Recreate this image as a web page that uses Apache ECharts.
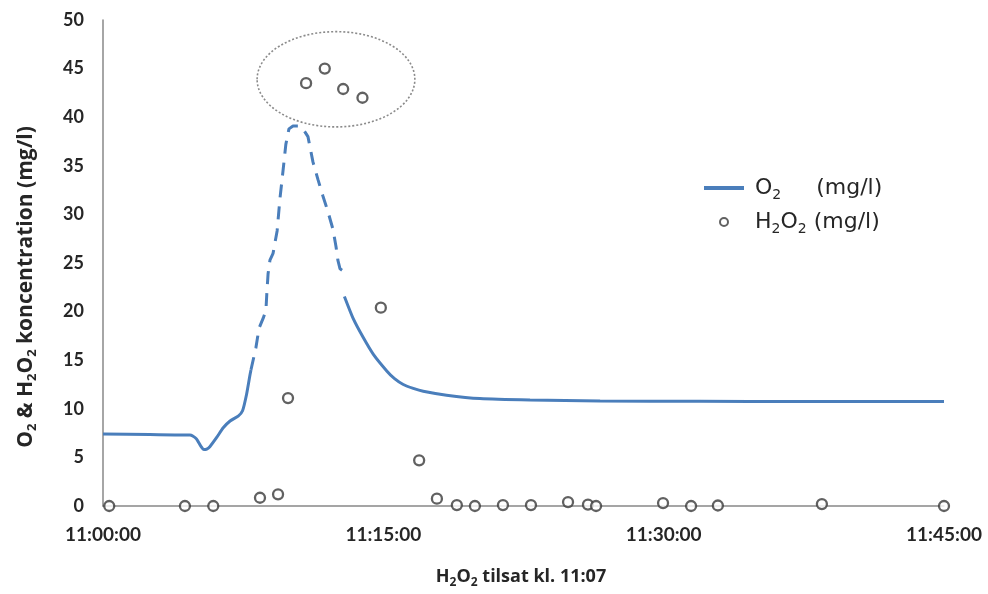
<!DOCTYPE html>
<html><head><meta charset="utf-8">
<script src="https://cdn.jsdelivr.net/npm/echarts@6/dist/echarts.min.js"></script>
<style>html,body{margin:0;padding:0;background:#fff}#c{width:988px;height:594px}</style>
</head><body><div id="c"></div>
<script>
// ---- data ----
const startTime = '11:00:00';
const xTickLabels = ['11:00:00', '11:15:00', '11:30:00', '11:45:00'];
const yTickValues = [0, 5, 10, 15, 20, 25, 30, 35, 40, 45, 50];

// O2 measured (solid, before)
const o2TimesA = ['11:00:00','11:02:30','11:04:39','11:04:48','11:05:00','11:05:15','11:05:24','11:05:33','11:05:43','11:06:05','11:06:26','11:06:48','11:07:14','11:07:28','11:07:41','11:07:52','11:07:55'];
const o2ValuesA = [7.4, 7.35, 7.3, 7.2, 6.9, 6.1, 5.8, 5.85, 6.1, 7.05, 8.05, 8.75, 9.25, 9.8, 11.5, 13.5, 14.0];
// O2 (dashed part)
const o2TimesB = ['11:07:55','11:08:11','11:08:21','11:08:34','11:08:43','11:08:46','11:08:50','11:08:56','11:09:06','11:09:19','11:09:28','11:09:38','11:09:47','11:09:57','11:10:10','11:10:29','11:10:42','11:10:58','11:11:14','11:11:30','11:11:46','11:12:02','11:12:18','11:12:28','11:12:34','11:12:41','11:12:50'];
const o2ValuesB = [14.0, 16.3, 18.3, 19.3, 20.1, 21.9, 23.9, 25.3, 26.0, 28.3, 31.6, 34.5, 37.2, 38.8, 39.1, 39.1, 38.8, 38.0, 35.4, 33.6, 31.9, 30.3, 28.5, 26.7, 25.3, 24.4, 24.2];
// O2 (solid, after)
const o2TimesC = ['11:12:55','11:13:23','11:13:56','11:14:28','11:15:11','11:15:36','11:16:04','11:16:36','11:17:08','11:18:23','11:20:10','11:22:51','11:26:36','11:31:56','11:37:17','11:45:00'];
const o2ValuesC = [21.55, 19.3, 17.3, 15.6, 13.9, 13.1, 12.5, 12.1, 11.8, 11.4, 11.05, 10.9, 10.8, 10.77, 10.74, 10.74];

// H2O2
const h2o2Times = ['11:00:20','11:04:23','11:05:54','11:08:24','11:09:22','11:09:54','11:10:52','11:11:52','11:12:51','11:13:53','11:14:52','11:16:55','11:17:52','11:18:56','11:19:54','11:21:24','11:22:54','11:24:53','11:25:57','11:26:23','11:29:58','11:31:28','11:32:54','11:38:28','11:45:00'];
const h2o2Values = [0, 0, 0, 0.85, 1.2, 11.1, 43.5, 45.0, 42.9, 42.0, 20.4, 4.7, 0.75, 0.1, 0, 0.1, 0.1, 0.4, 0.15, 0, 0.3, 0, 0.05, 0.2, 0];

// annotation ellipse around peak H2O2 points: [centre value, half-width (min), half-height (mg/l)]
const peakEllipseTime = '11:12:28';
const peakEllipse = [43.9, 4.22, 4.9];

// ---- helpers ----
function secs(t) { const p = t.split(':').map(Number); return p[0]*3600 + p[1]*60 + p[2]; }
const t0 = secs(startTime);
function toMin(t) { return (secs(t) - t0) / 60; }
function pairs(ts, vs) { return ts.map((t, i) => [toMin(t), vs[i]]); }

const TICKFONT = 'Lato, "Liberation Sans", sans-serif';
const FONT = '"Open Sans", "Liberation Sans", sans-serif';
const LEGFONT = '"DejaVu Sans", "Open Sans", sans-serif';
const TXT = '#262626';
const BLUE = '#4a7ebb';

const chart = echarts.init(document.getElementById('c'), null, {renderer: 'canvas'});
chart.setOption({
  animation: false,
  backgroundColor: '#fff',
  grid: {left: 103, right: 44, top: 20, bottom: 85},
  legend: {
    orient: 'vertical', left: 699, top: 172, itemWidth: 40, itemHeight: 8, itemGap: 9,
    data: [
      {name: 'O2', icon: 'path://M0,0H40V4H0Z', itemStyle: {color: BLUE, borderWidth: 0}},
      {name: 'H2O2'}
    ],
    formatter: function (n) {
      return n === 'O2' ? '{n|O}{s|2}{n|     (mg/l)}' : '{n|H}{s|2}{n|O}{s|2}{n| (mg/l)}';
    },
    textStyle: {
      color: TXT, fontFamily: LEGFONT, fontSize: 22, padding: [0, 0, 0, 6],
      rich: {
        n: {fontSize: 22, fontFamily: LEGFONT, color: TXT, lineHeight: 28},
        s: {fontSize: 14, fontFamily: LEGFONT, color: TXT, lineHeight: 18, verticalAlign: 'bottom'}
      }
    }
  },
  xAxis: {
    type: 'value', min: 0, max: 45, interval: 15,
    axisLine: {show: true, lineStyle: {color: '#888', width: 1.5}},
    axisTick: {show: false}, splitLine: {show: false},
    axisLabel: {
      margin: 19, color: TXT, fontFamily: TICKFONT, fontSize: 19, fontWeight: 'bold',
      formatter: v => xTickLabels[Math.round(v / 15)]
    },
    name: '{b|H}{s|2}{b|O}{s|2}{b| tilsat kl. 11:07}', nameLocation: 'middle', nameGap: 59,
    nameTextStyle: {
      color: TXT, fontFamily: FONT, padding: [0, 5, 0, 0],
      rich: {
        b: {fontSize: 18, fontWeight: 'bold', fontFamily: FONT, color: TXT, lineHeight: 24},
        s: {fontSize: 12, fontWeight: 'bold', fontFamily: FONT, color: TXT, lineHeight: 15, verticalAlign: 'bottom'}
      }
    }
  },
  yAxis: {
    type: 'value', min: 0, max: 50, interval: 5,
    axisLine: {show: true, lineStyle: {color: '#888', width: 1.5}},
    axisTick: {show: false}, splitLine: {show: false},
    axisLabel: {
      margin: 19, color: TXT, fontFamily: TICKFONT, fontSize: 18, fontWeight: 'bold',
      formatter: v => (yTickValues.indexOf(v) >= 0 ? String(v) : '')
    },
    name: '{b|O}{s|2}{b| & H}{s|2}{b|O}{s|2}{b| koncentration (mg/l)}', nameLocation: 'middle', nameGap: 64,
    nameTextStyle: {
      color: TXT, fontFamily: FONT, padding: [0, 48, 0, 0],
      rich: {
        b: {fontSize: 21, fontWeight: 'bold', fontFamily: FONT, color: TXT, lineHeight: 26},
        s: {fontSize: 13, fontWeight: 'bold', fontFamily: FONT, color: TXT, lineHeight: 16, verticalAlign: 'bottom'}
      }
    }
  },
  series: [
    {
      name: 'O2', type: 'line', data: pairs(o2TimesA, o2ValuesA), symbol: 'none', showSymbol: false,
      smooth: 0.2,
      lineStyle: {color: BLUE, width: 3}, itemStyle: {color: BLUE}, z: 3
    },
    {
      name: 'O2 (dashed)', type: 'line', data: pairs(o2TimesB, o2ValuesB), symbol: 'none',
      smooth: false,
      lineStyle: {color: BLUE, width: 3, type: [13, 9]}, itemStyle: {color: BLUE}, z: 3
    },
    {
      name: 'O2', type: 'line', data: pairs(o2TimesC, o2ValuesC), symbol: 'none', showSymbol: false,
      smooth: 0.2,
      lineStyle: {color: BLUE, width: 3}, itemStyle: {color: BLUE}, z: 3
    },
    {
      name: 'H2O2', type: 'scatter', data: pairs(h2o2Times, h2o2Values),
      symbol: 'circle', symbolSize: 10,
      itemStyle: {color: '#fff', borderColor: '#3a3a3a', borderWidth: 2.3}, z: 4
    },
    {
      name: 'ellipse', type: 'custom', z: 2, silent: true,
      data: [[toMin(peakEllipseTime), peakEllipse[0], peakEllipse[1], peakEllipse[2]]],
      renderItem: function (params, api) {
        const c = api.coord([api.value(0), api.value(1)]);
        const s = api.size([api.value(2), api.value(3)]);
        return {
          type: 'ellipse',
          shape: {cx: c[0], cy: c[1], rx: s[0], ry: s[1]},
          style: {fill: 'none', stroke: '#8a8a8a', lineWidth: 1.6, lineDash: [2, 2]}
        };
      }
    }
  ]
});
</script>
</body></html>
